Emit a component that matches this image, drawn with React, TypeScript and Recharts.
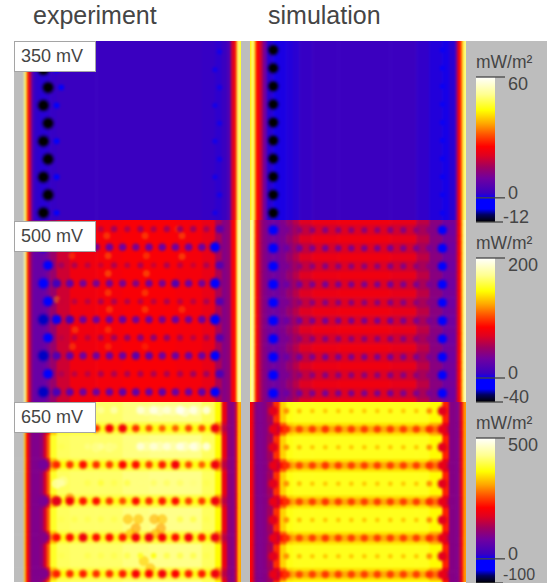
import React from "react";
import { ScatterChart, Scatter, XAxis, YAxis, ComposedChart, Bar } from "recharts";

const _ = null;
const GRAY = "#bdbdbd";
const INK = "#454545";
const FONT = "'Liberation Sans', Arial, sans-serif";

// colour scale (position along the colour bar, colour)
const scalePos = [0, 0.05, 0.09, 0.16, 0.2, 0.3, 0.38, 0.46, 0.52, 0.6, 0.68, 0.77, 0.88, 1];
const scaleCol = ["#000000", "#000060", "#0000ff", "#0000ff", "#3a00c0", "#7000a0", "#a00060", "#e00020", "#ff0000", "#ff5000", "#ffa800", "#ffff00", "#ffff90", "#ffffff"];

// column boundaries, in units of the dot pitch
const expCols = [-2.23, -1.46, -1.32, -1.2, -1.08, -0.95, -0.8, -0.6, -0.3, 0, 0.25, 0.5, 1, 2, 4, 6, 8, 10, 12, 13, 13.5, 13.9, 14.2, 14.45, 14.6, 14.72, 14.84, 14.97];
const simCols = [-1.79, -1.67, -1.55, -1.45, -1.33, -1.18, -1, -0.8, -0.5, 0, 0.5, 1, 1.5, 2, 3, 5, 9, 11, 12, 13, 13.5, 14, 14.15, 14.3, 14.45, 14.6, 14.82];

// 350 mV
const exp350Profile = [_, 50, 36, 24, 20, 10, 3, 1.8, 1.5, 1.5, 1.8, 2.2, 2.4, 2.4, 2.4, 2.4, 2.4, 2.4, 2.2, 1.8, 2.4, 5, 20, 24, 38, 55, 45];
const sim350Profile = [42, 52, 48, 36, 26, 24, 18, 10, 1.5, 0.6, 0.8, 1.2, 1.6, 2.2, 2.6, 2.6, 2.6, 2, 1.2, 0.6, 1.5, 9, 22, 26, 38, 50];
const exp350Dots = [
  [-12, _, _, _, _, _, _, _, _, _, _, _, _, 0.5],
  [-12, -2, _, _, _, _, _, _, _, _, _, _, _, 0.5],
  [-12, -1, _, _, _, _, _, _, _, _, _, _, _, 0.5],
  [-12, -1, _, _, _, _, _, _, _, _, _, _, _, 0.5],
  [-12, _, _, _, _, _, _, _, _, _, _, _, _, 0.5],
  [-12, -1, _, _, _, _, _, _, _, _, _, _, _, 0.5],
  [-12, _, _, _, _, _, _, _, _, _, _, _, _, 0.5],
  [-12, -1, _, _, _, _, _, _, _, _, _, _, _, 0.5],
  [-12, _, _, _, _, _, _, _, _, _, _, _, _, 0.5],
  [-12, -1, _, _, _, _, _, _, _, _, _, _, _, 0.5],
];
const sim350Row = [-12, _, _, _, _, _, _, _, _, _, _, _, _, 0];

// 500 mV
const exp500Profile = [_, 175, 120, 80, 60, 40, 30, 28, 28, 30, 38, 48, 65, 78, 80, 82, 82, 80, 75, 55, 40, 45, 80, 85, 135, 195, 165];
const sim500Band = [160, 195, 160, 105, 80, 65, 50, 40, 34, 32, 38, 48, 58, 70, 76, 78, 74, 60, 42, 32, 34, 45, 78, 85, 130, 180];
const sim500Line = [160, 195, 160, 105, 80, 65, 50, 40, 32, 30, 36, 44, 52, 62, 68, 70, 66, 54, 40, 30, 32, 45, 78, 85, 130, 180];
const exp500Dots = [
  [22, 55, 60, 65, 60, 52, 56, 52, 56, 52, 50, 52, 54, 22],
  [-6, 32, 28, 32, 34, 30, 32, 36, 32, 30, 32, 32, 30, -14],
  [-2, 52, 56, 60, 64, 56, 60, 56, 64, 56, 60, 64, 56, 20],
  [-14, 12, 26, 34, 36, 36, 36, 40, 34, 36, 20, 32, 34, -14],
  [-8, 64, 60, 60, 56, 56, 58, 60, 60, 56, 60, 60, 56, 20],
  [-22, 0, 14, 32, 32, 32, 30, 34, 32, 36, 30, 34, 30, -14],
  [-2, 60, 60, 60, 56, 52, 48, 44, 46, 48, 56, 60, 56, 20],
  [-22, 18, 26, 32, 32, 32, 30, 22, 26, 32, 30, 32, 30, -8],
  [-4, 56, 60, 60, 56, 56, 56, 56, 56, 56, 56, 52, 52, 16],
  [-22, 14, 26, 32, 32, 30, 26, 26, 30, 26, 30, 32, 26, -4],
];
const exp500Flecks = [
  [4.8, 0.37, 112], [7.7, 0.37, 112], [10.5, 0.37, 112], [10.2, 0, 105], [2.15, 1.48, 105], [4.9, 1.48, 115], [7.8, 1.48, 110], [10.5, 1.52, 115],
  [4.9, 2.46, 118], [7.8, 2.46, 118], [1, 3.89, 118], [4.9, 3.52, 112], [7.7, 3.52, 112], [5, 4.44, 110], [7.7, 4.44, 112], [10.5, 4.44, 108],
  [2.4, 5.56, 110], [4.9, 5.56, 108], [2.2, 6.48, 108], [4.9, 6.48, 105], [7.7, 6.48, 100],
];
const sim500Strong = [-16, 30, 34, 38, 36, 38, 38, 38, 38, 36, 38, 38, 36, -10];
const sim500Weak = [-14, 36, 44, 44, 42, 44, 44, 44, 44, 42, 42, 44, 42, -6];

// 650 mV
const exp650Band = [_, 320, 220, 190, 130, 100, 95, 95, 110, 170, 270, 380, 405, 410, 410, 420, 425, 425, 405, 360, 190, 110, 100, 130, 210, 350, 300];
const exp650Shoulder = [_, 320, 220, 190, 130, 100, 95, 95, 105, 150, 230, 330, 390, 395, 395, 395, 395, 395, 390, 310, 170, 110, 100, 130, 210, 350, 300];
const exp650Line = [_, 320, 220, 190, 130, 100, 95, 95, 100, 130, 190, 290, 365, 370, 370, 370, 370, 370, 365, 280, 150, 110, 100, 130, 210, 350, 300];
const exp650Dots = [
  [_, _, _, 420, 430, 440, 420, 470, 480, 470, 490, 480, 470, _],
  [_, _, _, _, 240, 205, 200, 240, 260, 270, 270, 255, 260, 195],
  [_, 400, 410, 420, 430, 420, 420, 470, 470, 470, 480, 480, 470, _],
  [85, 235, 245, 220, 240, 250, 215, 220, 250, 230, 200, 255, 270, 195],
  [_, 440, 410, 400, 390, 400, 400, 420, 410, 410, 410, 420, 400, _],
  [90, 180, 200, 225, 220, 245, 260, 220, 240, 230, 220, 250, 250, 195],
  [_, 400, 400, 400, 400, 400, _, _, _, _, 400, 400, 400, _],
  [100, 220, 220, 195, 220, 220, 225, 200, 195, 205, 220, 200, 230, 190],
  [_, 400, 410, 400, 400, 400, 400, 380, 370, 400, 400, 400, 400, _],
  [95, 230, 240, 230, 240, 240, 230, 205, 215, 200, 210, 230, 230, 195],
];
const exp650Flecks = [
  [7.8, 0.05, 450], [8.8, 0.05, 470], [9.8, 0.05, 450], [10.7, 0.1, 480], [11.6, 0.05, 450],
  [7.8, 2, 450], [8.8, 2, 460], [9.8, 2, 450], [10.7, 2, 470], [11.6, 2, 470], [4, 2.05, 430], [5, 2.05, 430],
  [1, 4.05, 470], [1.5, 3.9, 430],
  [6.4, 6.0, 320], [7, 6.5, 300], [6.6, 6.8, 320], [7.2, 6.0, 320], [8.4, 6.0, 310], [8.9, 6.5, 300], [8.5, 6.8, 310], [9, 6, 320],
  [1, 5, 230], [2, 4.85, 290], [7.6, 8.3, 330], [8.1, 8.7, 320],
];
const sim650Band = [210, 190, 150, 110, 100, 95, 95, 100, 130, 240, 335, 370, 375, 375, 375, 375, 375, 375, 360, 230, 100, 95, 100, 150, 210, 300];
const sim650Shoulder = [210, 190, 150, 110, 100, 95, 95, 100, 120, 180, 270, 335, 345, 345, 345, 345, 345, 345, 315, 190, 100, 95, 100, 150, 210, 300];
const sim650Line = [210, 190, 150, 110, 100, 95, 95, 100, 110, 150, 220, 300, 310, 310, 310, 310, 310, 310, 280, 150, 100, 95, 100, 150, 210, 300];
const sim650Strong = [185, 240, 255, 250, 245, 250, 250, 250, 250, 250, 250, 250, 240, 185];
const sim650Weak = [180, 295, 325, 330, 330, 330, 330, 330, 330, 330, 330, 330, 295, 180];

// row boundaries and the profile used between them
const oneRow = [0];
const lineRows650Exp = [-0.45, 0.64, 0.82, 1.18, 1.36, 2.64, 2.82, 3.18, 3.36, 4.64, 4.82, 5.18, 5.36, 6.64, 6.82, 7.18, 7.36, 8.64, 8.82, 9.18, 9.36, 9.45];
const lineRows650Sim = [-0.5, 0.64, 0.82, 1.18, 1.36, 2.64, 2.82, 3.18, 3.36, 4.64, 4.82, 5.18, 5.36, 6.64, 6.82, 7.18, 7.36, 8.64, 8.82, 9.18, 9.36, 9.42];
const lineKinds650 = [0, 1, 2, 1, 0, 1, 2, 1, 0, 1, 2, 1, 0, 1, 2, 1, 0, 1, 2, 1, 0];
const rows500Sim = [-0.55, -0.3, 0.3, 0.7, 1.3, 1.7, 2.3, 2.7, 3.3, 3.7, 4.3, 4.7, 5.3, 5.7, 6.3, 6.7, 7.3, 7.7, 8.3, 8.7, 9.3, 9.48];
const kinds500Sim = [0, 1, 0, 1, 0, 1, 0, 1, 0, 1, 0, 1, 0, 1, 0, 1, 0, 1, 0, 1, 0];

const rowIds = [0, 1, 2, 3, 4, 5, 6, 7, 8, 9];
const hex = (c: string) => [1, 3, 5].map((i) => parseInt(c.slice(i, i + 2), 16));

function colorAt(t: number) {
  const c = Math.max(0, Math.min(1, t));
  let i = 0;
  while (i < scalePos.length - 2 && c > scalePos[i + 1]) i++;
  const f = (c - scalePos[i]) / (scalePos[i + 1] - scalePos[i]);
  const a = hex(scaleCol[i]);
  const b = hex(scaleCol[i + 1]);
  return `rgb(${a.map((v, k) => Math.round(v + (b[k] - v) * f)).join(",")})`;
}

type PanelProps = {
  left: number; top: number; width: number; height: number;
  xDomain: number[]; yDomain: number[];
  cols: number[]; rowEdges: number[]; kinds: number[];
  profiles: (number | null)[][];
  dots: (number | null)[][]; evenShift: number;
  flecks?: number[][]; fleckR?: number; fleckO?: number;
  min: number; max: number; ref: number; r0: number; rk: number;
};

function Panel(p: PanelProps) {
  const pad = 5;
  const range = p.max - p.min;
  const pxX = p.width / (p.xDomain[1] - p.xDomain[0]);
  const pxY = p.height / (p.yDomain[1] - p.yDomain[0]);
  const tone = (v: number) => colorAt((v - p.min) / range);

  const edgesY = p.rowEdges.length > 1 ? p.rowEdges : p.yDomain;
  const kinds = p.kinds;
  const cells: any[] = [];
  kinds.forEach((kind, j) => {
    p.profiles[kind].forEach((v, i) => {
      const a = p.cols[i];
      const b = p.cols[i + 1];
      const c = edgesY[j];
      const d = edgesY[j + 1];
      cells.push({ x: (a + b) / 2, y: (c + d) / 2, w: b - a, h: d - c, v, firstC: i === 0, lastC: i === p.cols.length - 2, firstR: j === 0, lastR: j === kinds.length - 1 });
    });
  });

  const dotPts: any[] = [];
  p.dots.forEach((row, j) => {
    row.forEach((v, i) => {
      if (v === null) return;
      dotPts.push({ x: i + (j % 2 === 0 ? p.evenShift : 0), y: j, v });
    });
  });
  const fleckPts = (p.flecks || []).map(([x, y, v]) => ({ x, y, v }));

  const cellShape = (s: any) => {
    const e = s.payload;
    let x0 = s.cx - (e.w * pxX) / 2;
    let x1 = s.cx + (e.w * pxX) / 2 + 0.6;
    let y0 = s.cy - (e.h * pxY) / 2;
    let y1 = s.cy + (e.h * pxY) / 2 + 0.6;
    if (e.firstC) x0 -= pad;
    if (e.lastC) x1 += pad;
    if (e.firstR) y0 -= pad;
    if (e.lastR) y1 += pad;
    return <rect x={x0} y={y0} width={x1 - x0} height={y1 - y0} fill={e.v === null ? GRAY : tone(e.v)} />;
  };
  const dotShape = (s: any) => {
    const v = s.payload.v;
    const r = p.r0 + (p.rk * Math.abs(v - p.ref)) / range;
    return (
      <g>
        <circle cx={s.cx} cy={s.cy} r={r * 1.5} fill={tone(v)} opacity={0.35} />
        <circle cx={s.cx} cy={s.cy} r={r} fill={tone(v)} />
      </g>
    );
  };
  const fleckShape = (s: any) => <circle cx={s.cx} cy={s.cy} r={p.fleckR || 4} fill={tone(s.payload.v)} opacity={p.fleckO || 0.6} />;

  return (
    <div style={{ position: "absolute", left: p.left, top: p.top, width: p.width, height: p.height, overflow: "hidden" }}>
      <div style={{ position: "absolute", left: -pad, top: -pad, filter: "blur(1.2px)" }}>
        <ScatterChart width={p.width + pad * 2} height={p.height + pad * 2} margin={{ top: pad, right: pad, bottom: pad, left: pad }}>
          <XAxis type="number" dataKey="x" domain={p.xDomain} hide />
          <YAxis type="number" dataKey="y" domain={p.yDomain} reversed hide width={0} />
          <Scatter data={cells} shape={cellShape} isAnimationActive={false} />
          <Scatter data={fleckPts} shape={fleckShape} isAnimationActive={false} />
          <Scatter data={dotPts} shape={dotShape} isAnimationActive={false} />
        </ScatterChart>
      </div>
    </div>
  );
}

function ColorBar({ id, top, barH, min, max }: { id: string; top: number; barH: number; min: number; max: number }) {
  const m = 8;
  const data = [{ name: "scale", range: [min, max] }];
  const tick = (s: any) => {
    const val = s.payload.value;
    const base = s.x - 8;
    const dy = val === max ? 13 : val === -100 ? -3 : 1;
    return (
      <g>
        <line x1={base - 19} x2={base + (val < 0 ? 8 : 10)} y1={s.y} y2={s.y} stroke={INK} strokeWidth={1.3} />
        <text x={base + (val < 0 ? 8 : 13)} y={s.y + dy} fontSize={val === -100 ? 16 : 18} fontFamily={FONT} fill={INK}>{val}</text>
      </g>
    );
  };
  return (
    <div style={{ position: "absolute", left: 476, top: top - m }}>
      <ComposedChart width={71} height={barH + m * 2} data={data} margin={{ top: m, right: 0, bottom: m, left: 0 }} barCategoryGap={0}>
        <defs>
          <linearGradient id={id} x1="0" y1="1" x2="0" y2="0">
            {scalePos.map((t, i) => <stop key={t} offset={t} stopColor={scaleCol[i]} />)}
          </linearGradient>
        </defs>
        <XAxis type="category" dataKey="name" hide />
        <YAxis type="number" orientation="right" width={52} domain={[min, max]} ticks={[min, 0, max]} tick={tick} axisLine={false} tickLine={false} interval={0} />
        <Bar dataKey="range" fill={`url(#${id})`} isAnimationActive={false} />
      </ComposedChart>
    </div>
  );
}

const Box = ({ top, text }: { top: number; text: string }) => (
  <div style={{ position: "absolute", left: 14, top, width: 74, height: 29, background: "#fff", border: "1px solid #a5a5a5", fontFamily: FONT, fontSize: 18, lineHeight: "29px", color: INK, paddingLeft: 6 }}>{text}</div>
);
const Txt = ({ left, top, size, text }: { left: number; top: number; size: number; text: string }) => (
  <div style={{ position: "absolute", left, top, fontFamily: FONT, fontSize: size, lineHeight: 1.2, color: INK, whiteSpace: "nowrap" }}>{text}</div>
);

const expX = { left: 14, width: 227, xDomain: [-2.23, 14.97], cols: expCols, evenShift: 0.35 };
const simX = { left: 250, width: 216, xDomain: [-1.79, 14.82], cols: simCols, evenShift: 0 };

export default function App() {
  const sim350 = rowIds.map(() => sim350Row);
  const sim500 = rowIds.map((j) => (j % 2 ? sim500Strong : sim500Weak));
  const sim650 = rowIds.map((j) => (j % 2 ? sim650Strong : sim650Weak));
  return (
    <div style={{ position: "absolute", left: 0, top: 0, width: 547, height: 583, overflow: "hidden", background: "#fff" }}>
      <Txt left={33} top={0} size={25} text="experiment" />
      <Txt left={268} top={0} size={25} text="simulation" />
      <div style={{ position: "absolute", left: 241, top: 41, width: 9, height: 541, background: GRAY }} />
      <div style={{ position: "absolute", left: 466, top: 41, width: 81, height: 542, background: GRAY }} />

      <Panel {...expX} top={41} height={179} yDomain={[-0.6, 9.4]} rowEdges={oneRow} kinds={oneRow} profiles={[exp350Profile]} dots={exp350Dots} min={-12} max={60} ref={2.4} r0={1.8} rk={14} />
      <Panel {...expX} top={220} height={182} yDomain={[-0.5, 9.55]} rowEdges={oneRow} kinds={oneRow} profiles={[exp500Profile]} dots={exp500Dots} flecks={exp500Flecks} fleckR={3.5} fleckO={0.4} min={-40} max={200} ref={80} r0={2} rk={6} />
      <Panel {...expX} top={402} height={180} yDomain={[-0.45, 9.45]} rowEdges={lineRows650Exp} kinds={lineKinds650} profiles={[exp650Band, exp650Shoulder, exp650Line]} dots={exp650Dots} flecks={exp650Flecks} fleckR={5} min={-100} max={500} ref={345} r0={2} rk={7} />

      <Panel {...simX} top={41} height={179} yDomain={[-0.5, 9.39]} rowEdges={oneRow} kinds={oneRow} profiles={[sim350Profile]} dots={sim350} min={-12} max={60} ref={2.4} r0={1.8} rk={12} />
      <Panel {...simX} top={220} height={182} yDomain={[-0.55, 9.48]} rowEdges={rows500Sim} kinds={kinds500Sim} profiles={[sim500Band, sim500Line]} dots={sim500} min={-40} max={200} ref={68} r0={2} rk={6} />
      <Panel {...simX} top={402} height={180} yDomain={[-0.5, 9.42]} rowEdges={lineRows650Sim} kinds={lineKinds650} profiles={[sim650Band, sim650Shoulder, sim650Line]} dots={sim650} min={-100} max={500} ref={345} r0={1.8} rk={8} />

      <Box top={41} text="350 mV" />
      <Box top={221} text="500 mV" />
      <Box top={402} text="650 mV" />

      <Txt left={476} top={52} size={17.5} text="mW/m²" />
      <Txt left={476} top={233} size={17.5} text="mW/m²" />
      <Txt left={476} top={413} size={17.5} text="mW/m²" />
      <ColorBar id="bar350" top={77} barH={145} min={-12} max={60} />
      <ColorBar id="bar500" top={258} barH={144} min={-40} max={200} />
      <ColorBar id="bar650" top={438} barH={145} min={-100} max={500} />
    </div>
  );
}
